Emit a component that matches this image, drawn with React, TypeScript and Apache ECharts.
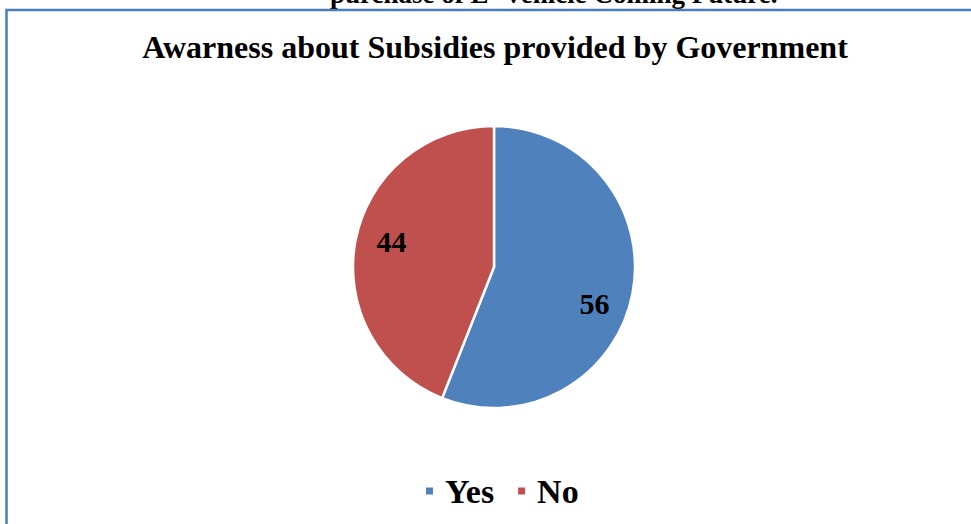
import React, { useEffect, useRef } from "react";
import * as echarts from "echarts";

const categories = ["Yes", "No"];
const values = [56, 44];
const colors = ["#4F81BD", "#C0504D"];
const titleText = "Awarness about Subsidies provided by Government";
const clippedHeading = "purchase of E- Vehicle Coming Future.";

const FONT = "'Liberation Serif', 'Times New Roman', serif";
const labelOffsets = [[-6, 16], [4, -5]];

export default function App() {
  const ref = useRef<HTMLDivElement>(null);
  useEffect(() => {
    if (!ref.current) return;
    const chart = echarts.init(ref.current, null, { renderer: "svg" });
    const data = categories.map((c, i) => ({ name: c, value: values[i], itemStyle: { color: colors[i] } }));
    chart.setOption({
      animation: false,
      backgroundColor: "#ffffff",
      title: {
        text: titleText,
        left: 490,
        textAlign: "center",
        top: 26,
        textStyle: { fontFamily: FONT, fontWeight: "bold", fontSize: 32, color: "#000" },
      },
      legend: {
        data: categories,
        left: 419,
        top: 469,
        icon: "rect",
        itemWidth: 9,
        itemHeight: 9,
        itemGap: 22,
        textStyle: { fontFamily: FONT, fontWeight: "bold", fontSize: 34, color: "#000", padding: [0, 0, 0, 6] },
      },
      graphic: [
        {
          type: "text",
          left: 330,
          top: -20,
          silent: true,
          style: { text: clippedHeading, fill: "#000", font: `bold 27px ${FONT}` },
          z: 1,
        },
        {
          type: "rect",
          shape: { x: 6.5, y: 10, width: 1200, height: 1200 },
          style: { fill: "transparent", stroke: "#4A7EBB", lineWidth: 2.5 },
          silent: true,
          z: 10,
        },
      ],
      series: [
        {
          type: "pie",
          center: [494, 267],
          radius: [0, 141],
          startAngle: 90,
          clockwise: true,
          data,
          label: { show: false },
          labelLine: { show: false },
          itemStyle: { borderColor: "#fff", borderWidth: 2.5 },
          silent: true,
        },
        {
          type: "pie",
          center: [494, 267],
          radius: [70, 141],
          startAngle: 90,
          clockwise: true,
          data: categories.map((c, i) => ({
            name: c,
            value: values[i],
            label: { offset: labelOffsets[i] },
          })),
          itemStyle: { color: "transparent", borderWidth: 0 },
          label: {
            show: true,
            position: "inside",
            formatter: "{c}",
            fontFamily: FONT,
            fontWeight: "bold",
            fontSize: 30,
            color: "#000",
          },
          labelLine: { show: false },
          silent: true,
          legendHoverLink: false,
        },
      ],
    });
    return () => chart.dispose();
  }, []);
  return (
    <div
      ref={ref}
      style={{ position: "fixed", left: 0, top: 0, width: 971, height: 524, background: "#fff" }}
    />
  );
}
